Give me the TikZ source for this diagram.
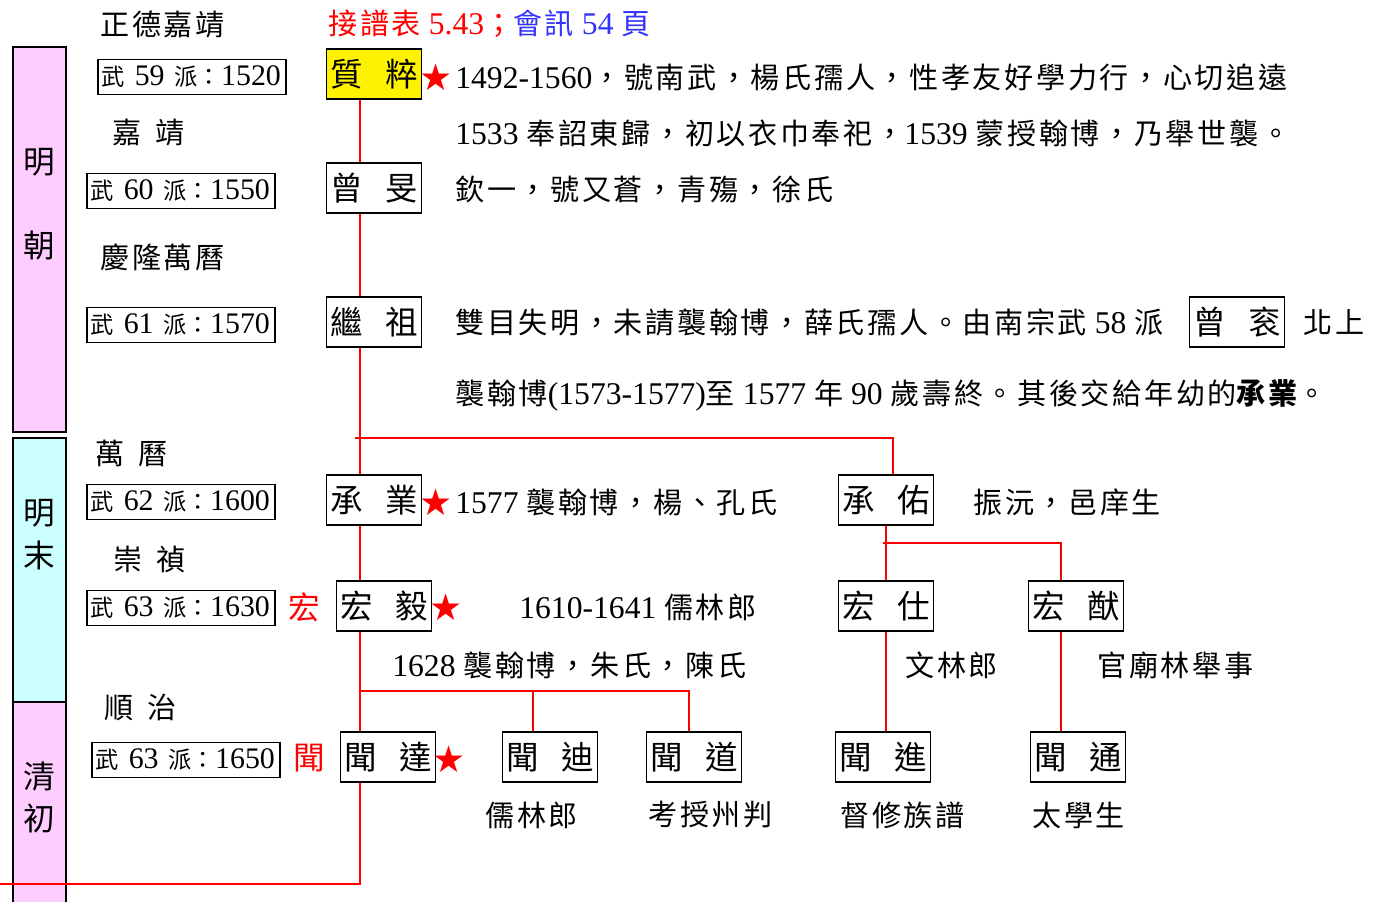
\documentclass[tikz,border=0pt]{standalone}
\usepackage{fontspec}
\setmainfont{Liberation Serif}
\newfontfamily\zhfont[Scale=0.92,LetterSpace=9]{Noto Sans CJK TC}
\newfontfamily\zhbox[Scale=0.78]{Noto Sans CJK TC}
\newfontfamily\zhsans{Noto Sans CJK TC}
\newfontfamily\symfont{DejaVu Sans}
\newcommand{\zh}[1]{{\zhfont #1}}
\newcommand{\zb}[1]{{\zhbox #1}}
\newcommand{\pname}[2]{{\zhsans #1\hspace{0.7em}#2}}
\definecolor{eraPink}{RGB}{255,204,255}
\definecolor{eraCyan}{RGB}{204,255,255}
\definecolor{noteBlue}{RGB}{51,51,255}

\begin{document}
\begin{tikzpicture}[x=0.02cm,y=-0.02cm,
    tie/.style={red,line width=1pt},
    person/.style={draw,line width=1.1pt,minimum width=1.9cm,minimum height=1cm,inner sep=1pt,font=\fontsize{18.5}{22}\selectfont},
    gen/.style={draw,line width=1.1pt,minimum height=0.7cm,text width=3.62cm,align=left,inner sep=2pt,font=\fontsize{17}{20}\selectfont},
    note/.style={anchor=west,inner sep=0pt,font=\fontsize{18}{22}\selectfont},
    eraname/.style={inner sep=0pt,font=\zhsans\fontsize{18}{20}\selectfont},
    star/.style={red,inner sep=0pt,font=\symfont\fontsize{21}{21}\selectfont}]
  \useasboundingbox (0,0) rectangle (1382,902);
  % era bars
  \draw[line width=1.1pt,fill=eraPink] (13,47) rectangle (66,432);
  \draw[line width=1.1pt,fill=eraCyan] (13,438) rectangle (66,702);
  \draw[line width=1.1pt,fill=eraPink] (13,702) rectangle (66,903);
  \node[eraname] (e1) at (39,162) {明};
  \node[eraname] (e2) at (39,245) {朝};
  \node[eraname] (e3) at (39,513) {明};
  \node[eraname] (e4) at (39,555) {末};
  \node[eraname] (e5) at (39,777) {清};
  \node[eraname] (e6) at (39,818) {初};
  % reigns
  \node[note] (r1) at (100,25) {\zh{正德嘉靖}};
  \node[note] (r2) at (112,133) {\zh{嘉}\hspace{0.45em}\zh{靖}};
  \node[note] (r3) at (100,257) {\zh{慶隆萬曆}};
  \node[note] (r4) at (95,453) {\zh{萬}\hspace{0.45em}\zh{曆}};
  \node[note] (r5) at (113,559) {\zh{崇}\hspace{0.45em}\zh{禎}};
  \node[note] (r6) at (104,707) {\zh{順}\hspace{0.45em}\zh{治}};
  % generations
  \node[gen] (g59) at (192,77) {\zb{武} 59 \zb{派：}1520};
  \node[gen] (g60) at (181,191) {\zb{武} 60 \zb{派：}1550};
  \node[gen] (g61) at (181,325) {\zb{武} 61 \zb{派：}1570};
  \node[gen] (g62) at (181,502) {\zb{武} 62 \zb{派：}1600};
  \node[gen] (g63) at (181,608) {\zb{武} 63 \zb{派：}1630};
  \node[gen] (g63b) at (186,760) {\zb{武} 63 \zb{派：}1650};
  % title
  \node[note,red] (ttl) at (328,24) {\zh{接譜表} 5.43\zh{；}\textcolor{noteBlue}{\zh{會訊} 54 \zh{頁}}};
  % persons
  \node[person,fill=yellow] (zc) at (374,74) {\pname{質}{粹}};
  \node[person] (zm) at (374,188) {\pname{曾}{旻}};
  \node[person] (jz) at (374,322) {\pname{繼}{祖}};
  \node[person] (cye) at (374,500) {\pname{承}{業}};
  \node[person] (hy) at (384,606) {\pname{宏}{毅}};
  \node[person] (wd) at (388,757) {\pname{聞}{達}};
  \node[person] (cyo) at (886,500) {\pname{承}{佑}};
  \node[person] (hs) at (886,606) {\pname{宏}{仕}};
  \node[person] (hyo) at (1076,606) {\pname{宏}{猷}};
  \node[person] (wdi) at (550,757) {\pname{聞}{迪}};
  \node[person] (wdo) at (694,757) {\pname{聞}{道}};
  \node[person] (wj) at (883,757) {\pname{聞}{進}};
  \node[person] (wt) at (1078,757) {\pname{聞}{通}};
  \node[person] (zg) at (1237,322) {\pname{曾}{衮}};
  % stars and red marks
  \node[star] (s1) at (436,77) {★};
  \node[star] (s2) at (436,502) {★};
  \node[star] (s3) at (446,607) {★};
  \node[star] (s4) at (449,759) {★};
  \node[eraname,red] (mh) at (304,607) {宏};
  \node[eraname,red] (mw) at (309,758) {聞};
  % notes
  \node[note] (t1) at (455,77) {1492-1560\zh{，號南武，楊氏孺人，性孝友好學力行，心切追遠}};
  \node[note] (t2) at (455,133) {1533 \zh{奉詔東歸，初以衣巾奉祀，}1539 \zh{蒙授翰博，乃舉世襲。}};
  \node[note] (t3) at (455,190) {\zh{欽一，號又蒼，青殤，徐氏}};
  \node[note] (t4) at (455,323) {\zh{雙目失明，未請襲翰博，薛氏孺人。由南宗武} 58 \zh{派}};
  \node[note] (t5) at (1303,323) {\zh{北上}};
  \node[note] (t6) at (455,395) {\zh{襲翰博}(1573-1577)\zh{至} 1577 \zh{年} 90 \zh{歲壽終。其後交給年幼的}\zh{\bfseries 承業}\zh{。}};
  \node[note] (t7) at (455,502) {1577 \zh{襲翰博，楊、孔氏}};
  \node[note] (t8) at (973,502) {\zh{振沅，邑庠生}};
  \node[note] (t9) at (519,607) {1610-1641 \zh{儒林郎}};
  \node[note] (t10) at (392,665) {1628 \zh{襲翰博，朱氏，陳氏}};
  \node[note] (t11) at (905,665) {\zh{文林郎}};
  \node[note] (t12) at (1097,665) {\zh{官廟林舉事}};
  \node[note] (t13) at (485,815) {\zh{儒林郎}};
  \node[note] (t14) at (648,815) {\zh{考授州判}};
  \node[note] (t15) at (840,815) {\zh{督修族譜}};
  \node[note] (t16) at (1032,815) {\zh{太學生}};
  % lineage
  \coordinate (trunk) at (360,0);
  \coordinate (fork1) at (355,438);
  \coordinate (fork2) at (883,543);
  \coordinate (fork3) at (360,691);
  \coordinate (edge) at (0,884);
  \coordinate (d1) at ([xshift=-0.34cm]wdi.north);
  \coordinate (d2) at ([xshift=-0.3cm]hyo.north);
  \coordinate (d3) at ([xshift=-0.3cm]hyo.south);
  \draw[tie] (zc.south -| trunk) -- (zm.north -| trunk);
  \draw[tie] (zm.south -| trunk) -- (jz.north -| trunk);
  \draw[tie] (jz.south -| trunk) -- (cye.north -| trunk);
  \draw[tie] (fork1) -| ([xshift=0.14cm]cyo.north);
  \draw[tie] (cye.south -| trunk) -- (hy.north -| trunk);
  \draw[tie] (hy.south -| trunk) -- (wd.north -| trunk);
  \draw[tie] (fork3) -| ([xshift=-0.1cm]wdo.north);
  \draw[tie] (d1 |- fork3) -- (d1);
  \draw[tie] (wd.south -| trunk) |- (edge);
  \draw[tie] (cyo.south) -- (hs.north);
  \draw[tie] (fork2) -| (d2);
  \draw[tie] (hs.south) -- (hs.south |- wj.north);
  \draw[tie] (d3) -- (d3 |- wt.north);
\end{tikzpicture}
\end{document}
